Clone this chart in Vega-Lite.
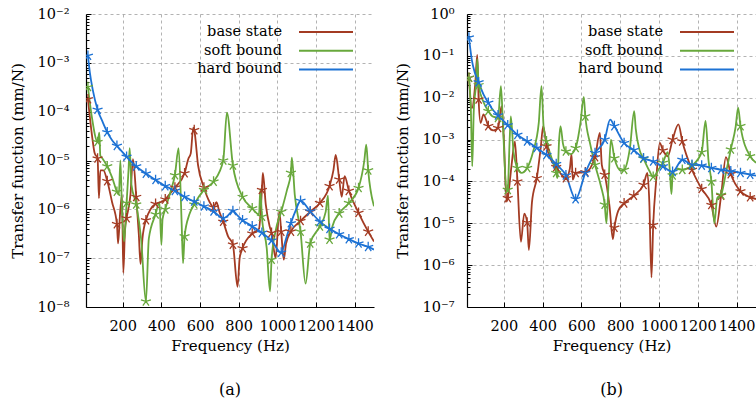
{
"$schema": "https://vega.github.io/schema/vega-lite/v6.json",
"padding": {"left": 10, "top": 6, "right": 0, "bottom": 0},
"background": "white",
"bounds": "flush",
"spacing": 93,
"config": {
  "view": {"stroke": null},
  "font": "DejaVu Serif",
  "axis": {"labelFont": "DejaVu Serif", "labelFontSize": 14.5, "labelColor": "#000", "titleFont": "DejaVu Serif", "titleFontSize": 15, "titleFontWeight": "normal", "titleColor": "#000", "domainColor": "#000", "domainWidth": 1.2, "tickColor": "#000", "tickWidth": 1, "gridColor": "#a0a0a0", "gridDash": [3, 3], "gridWidth": 0.8}
},
"resolve": {"scale": {"x": "independent", "y": "independent", "color": "independent", "stroke": "independent"}, "legend": {"color": "independent", "stroke": "independent"}},
"datasets": {
"a": [
{"s":"base state","f":20,"v":1.8e-4},{"s":"base state","f":40,"v":3.5e-5},{"s":"base state","f":55,"v":1.4e-5},{"s":"base state","f":70,"v":1.1e-5},{"s":"base state","f":77,"v":1.7e-6},{"s":"base state","f":84,"v":6.3e-6},{"s":"base state","f":100,"v":6.3e-6},{"s":"base state","f":120,"v":3.8e-6},{"s":"base state","f":145,"v":1.4e-6},{"s":"base state","f":170,"v":5.0e-7},{"s":"base state","f":176,"v":2.0e-7},{"s":"base state","f":186,"v":7.9e-7},{"s":"base state","f":196,"v":2.0e-6},{"s":"base state","f":203,"v":5.0e-8},{"s":"base state","f":212,"v":4.0e-7},{"s":"base state","f":220,"v":6.6e-7},{"s":"base state","f":240,"v":2.0e-6},{"s":"base state","f":253,"v":1.07e-5},{"s":"base state","f":270,"v":1.8e-6},{"s":"base state","f":283,"v":3.2e-7},{"s":"base state","f":292,"v":7.6e-8},{"s":"base state","f":302,"v":2.5e-7},{"s":"base state","f":320,"v":6.0e-7},{"s":"base state","f":370,"v":1.3e-6},{"s":"base state","f":395,"v":1.4e-6},{"s":"base state","f":420,"v":1.6e-6},{"s":"base state","f":445,"v":2.1e-6},{"s":"base state","f":470,"v":2.8e-6},{"s":"base state","f":520,"v":5.5e-6},{"s":"base state","f":540,"v":1.1e-5},{"s":"base state","f":552,"v":1.4e-5},{"s":"base state","f":565,"v":4.7e-5},{"s":"base state","f":570,"v":4.2e-5},{"s":"base state","f":590,"v":7.9e-6},{"s":"base state","f":620,"v":2.8e-6},{"s":"base state","f":650,"v":1.4e-6},{"s":"base state","f":670,"v":1.1e-6},{"s":"base state","f":685,"v":1.4e-6},{"s":"base state","f":700,"v":8.9e-7},{"s":"base state","f":720,"v":5.6e-7},{"s":"base state","f":745,"v":2.8e-7},{"s":"base state","f":770,"v":1.9e-7},{"s":"base state","f":794,"v":2.6e-8},{"s":"base state","f":805,"v":1.0e-7},{"s":"base state","f":820,"v":1.6e-7},{"s":"base state","f":870,"v":3.2e-7},{"s":"base state","f":905,"v":4.0e-7},{"s":"base state","f":920,"v":2.5e-6},{"s":"base state","f":925,"v":5.6e-6},{"s":"base state","f":940,"v":1.26e-6},{"s":"base state","f":960,"v":4.5e-7},{"s":"base state","f":970,"v":3.3e-7},{"s":"base state","f":991,"v":1.0e-7},{"s":"base state","f":1010,"v":9.1e-7},{"s":"base state","f":1020,"v":3.5e-7},{"s":"base state","f":1033,"v":9.3e-8},{"s":"base state","f":1045,"v":2.0e-7},{"s":"base state","f":1070,"v":3.5e-7},{"s":"base state","f":1120,"v":5.8e-7},{"s":"base state","f":1170,"v":8.9e-7},{"s":"base state","f":1220,"v":1.35e-6},{"s":"base state","f":1270,"v":3.0e-6},{"s":"base state","f":1290,"v":6.3e-6},{"s":"base state","f":1302,"v":1.3e-5},{"s":"base state","f":1320,"v":4.1e-6},{"s":"base state","f":1333,"v":1.8e-6},{"s":"base state","f":1348,"v":4.8e-6},{"s":"base state","f":1370,"v":2.4e-6},{"s":"base state","f":1420,"v":8.5e-7},{"s":"base state","f":1470,"v":3.5e-7},{"s":"base state","f":1500,"v":2.2e-7},
{"s":"soft bound","f":20,"v":3.2e-4},{"s":"soft bound","f":40,"v":7.9e-5},{"s":"soft bound","f":70,"v":2.4e-5},{"s":"soft bound","f":79,"v":3.7e-5},{"s":"soft bound","f":84,"v":1.26e-5},{"s":"soft bound","f":95,"v":1.1e-5},{"s":"soft bound","f":120,"v":7.6e-6},{"s":"soft bound","f":145,"v":4.5e-6},{"s":"soft bound","f":170,"v":2.3e-6},{"s":"soft bound","f":180,"v":2.0e-6},{"s":"soft bound","f":188,"v":1.0e-5},{"s":"soft bound","f":196,"v":1.0e-6},{"s":"soft bound","f":207,"v":2.2e-7},{"s":"soft bound","f":220,"v":1.35e-6},{"s":"soft bound","f":230,"v":6.3e-6},{"s":"soft bound","f":236,"v":1.8e-5},{"s":"soft bound","f":245,"v":3.2e-6},{"s":"soft bound","f":270,"v":1.26e-6},{"s":"soft bound","f":295,"v":2.5e-7},{"s":"soft bound","f":320,"v":1.3e-8},{"s":"soft bound","f":335,"v":2.5e-7},{"s":"soft bound","f":370,"v":7.9e-7},{"s":"soft bound","f":390,"v":1.4e-6},{"s":"soft bound","f":400,"v":1.9e-7},{"s":"soft bound","f":406,"v":6.3e-7},{"s":"soft bound","f":420,"v":1.0e-6},{"s":"soft bound","f":450,"v":2.5e-6},{"s":"soft bound","f":470,"v":5.0e-6},{"s":"soft bound","f":489,"v":1.8e-5},{"s":"soft bound","f":505,"v":5.0e-7},{"s":"soft bound","f":512,"v":7.9e-8},{"s":"soft bound","f":520,"v":2.8e-7},{"s":"soft bound","f":545,"v":7.9e-7},{"s":"soft bound","f":570,"v":1.26e-6},{"s":"soft bound","f":620,"v":2.5e-6},{"s":"soft bound","f":670,"v":3.7e-6},{"s":"soft bound","f":720,"v":1.0e-5},{"s":"soft bound","f":739,"v":9.5e-5},{"s":"soft bound","f":770,"v":7.9e-6},{"s":"soft bound","f":820,"v":1.8e-6},{"s":"soft bound","f":870,"v":1.05e-6},{"s":"soft bound","f":905,"v":7.9e-7},{"s":"soft bound","f":912,"v":2.6e-6},{"s":"soft bound","f":920,"v":7.1e-7},{"s":"soft bound","f":945,"v":1.6e-7},{"s":"soft bound","f":962,"v":2.1e-8},{"s":"soft bound","f":970,"v":9.3e-8},{"s":"soft bound","f":990,"v":3.5e-7},{"s":"soft bound","f":1020,"v":8.9e-7},{"s":"soft bound","f":1050,"v":2.5e-6},{"s":"soft bound","f":1070,"v":5.6e-6},{"s":"soft bound","f":1075,"v":1.15e-5},{"s":"soft bound","f":1090,"v":2.0e-6},{"s":"soft bound","f":1120,"v":3.5e-7},{"s":"soft bound","f":1146,"v":3.0e-8},{"s":"soft bound","f":1170,"v":2.0e-7},{"s":"soft bound","f":1220,"v":4.5e-7},{"s":"soft bound","f":1250,"v":8.9e-7},{"s":"soft bound","f":1262,"v":1.9e-6},{"s":"soft bound","f":1270,"v":2.4e-7},{"s":"soft bound","f":1285,"v":4.5e-7},{"s":"soft bound","f":1320,"v":8.3e-7},{"s":"soft bound","f":1370,"v":1.35e-6},{"s":"soft bound","f":1420,"v":2.75e-6},{"s":"soft bound","f":1450,"v":1.0e-5},{"s":"soft bound","f":1460,"v":2.1e-5},{"s":"soft bound","f":1470,"v":6.3e-6},{"s":"soft bound","f":1500,"v":1.15e-6},
{"s":"hard bound","f":20,"v":1.4e-3},{"s":"hard bound","f":30,"v":6.3e-4},{"s":"hard bound","f":45,"v":2.8e-4},{"s":"hard bound","f":70,"v":1.1e-4},{"s":"hard bound","f":95,"v":6.3e-5},{"s":"hard bound","f":120,"v":3.8e-5},{"s":"hard bound","f":145,"v":2.6e-5},{"s":"hard bound","f":170,"v":2.0e-5},{"s":"hard bound","f":220,"v":1.2e-5},{"s":"hard bound","f":270,"v":7.6e-6},{"s":"hard bound","f":320,"v":5.4e-6},{"s":"hard bound","f":370,"v":4.0e-6},{"s":"hard bound","f":420,"v":3.0e-6},{"s":"hard bound","f":470,"v":2.4e-6},{"s":"hard bound","f":520,"v":1.8e-6},{"s":"hard bound","f":570,"v":1.45e-6},{"s":"hard bound","f":620,"v":1.15e-6},{"s":"hard bound","f":670,"v":9.1e-7},{"s":"hard bound","f":720,"v":6.6e-7},{"s":"hard bound","f":740,"v":7.2e-7},{"s":"hard bound","f":770,"v":9.3e-7},{"s":"hard bound","f":795,"v":7.4e-7},{"s":"hard bound","f":820,"v":6.0e-7},{"s":"hard bound","f":870,"v":4.5e-7},{"s":"hard bound","f":920,"v":3.3e-7},{"s":"hard bound","f":970,"v":2.3e-7},{"s":"hard bound","f":1020,"v":1.3e-7},{"s":"hard bound","f":1045,"v":2.5e-7},{"s":"hard bound","f":1070,"v":5.2e-7},{"s":"hard bound","f":1095,"v":9.5e-7},{"s":"hard bound","f":1120,"v":1.5e-6},{"s":"hard bound","f":1170,"v":9.1e-7},{"s":"hard bound","f":1220,"v":5.6e-7},{"s":"hard bound","f":1270,"v":4.0e-7},{"s":"hard bound","f":1320,"v":3.1e-7},{"s":"hard bound","f":1370,"v":2.45e-7},{"s":"hard bound","f":1420,"v":2.0e-7},{"s":"hard bound","f":1470,"v":1.7e-7},{"s":"hard bound","f":1500,"v":1.5e-7}
],
"b": [
{"s":"base state","f":20,"v":0.030},{"s":"base state","f":35,"v":5.6e-3},{"s":"base state","f":52,"v":0.02},{"s":"base state","f":63,"v":0.105},{"s":"base state","f":70,"v":9.1e-3},{"s":"base state","f":80,"v":2.5e-3},{"s":"base state","f":95,"v":4.0e-3},{"s":"base state","f":120,"v":2.1e-3},{"s":"base state","f":145,"v":1.66e-3},{"s":"base state","f":170,"v":1.9e-3},{"s":"base state","f":188,"v":6.3e-3},{"s":"base state","f":200,"v":1.0e-3},{"s":"base state","f":214,"v":3.3e-5},{"s":"base state","f":220,"v":4.0e-5},{"s":"base state","f":240,"v":2.5e-4},{"s":"base state","f":257,"v":9.1e-4},{"s":"base state","f":270,"v":1.0e-4},{"s":"base state","f":288,"v":3.6e-6},{"s":"base state","f":305,"v":1.7e-5},{"s":"base state","f":320,"v":1.05e-5},{"s":"base state","f":329,"v":2.3e-6},{"s":"base state","f":345,"v":3.2e-5},{"s":"base state","f":370,"v":1.2e-4},{"s":"base state","f":390,"v":6.3e-4},{"s":"base state","f":403,"v":2.1e-3},{"s":"base state","f":420,"v":6.9e-4},{"s":"base state","f":440,"v":3.5e-4},{"s":"base state","f":470,"v":2.2e-4},{"s":"base state","f":500,"v":1.4e-4},{"s":"base state","f":520,"v":1.2e-4},{"s":"base state","f":540,"v":2.0e-4},{"s":"base state","f":549,"v":4.5e-4},{"s":"base state","f":555,"v":1.1e-4},{"s":"base state","f":570,"v":1.6e-4},{"s":"base state","f":620,"v":1.66e-4},{"s":"base state","f":670,"v":3.8e-4},{"s":"base state","f":695,"v":1.45e-3},{"s":"base state","f":705,"v":2.5e-4},{"s":"base state","f":720,"v":1.45e-4},{"s":"base state","f":745,"v":2.5e-5},{"s":"base state","f":762,"v":4.2e-6},{"s":"base state","f":770,"v":7.9e-6},{"s":"base state","f":790,"v":2.0e-5},{"s":"base state","f":820,"v":3.0e-5},{"s":"base state","f":870,"v":4.6e-5},{"s":"base state","f":920,"v":8.3e-5},{"s":"base state","f":940,"v":1.6e-4},{"s":"base state","f":950,"v":3.2e-5},{"s":"base state","f":961,"v":5.1e-7},{"s":"base state","f":970,"v":9.1e-6},{"s":"base state","f":985,"v":1.0e-4},{"s":"base state","f":1004,"v":8.3e-4},{"s":"base state","f":1020,"v":5.5e-4},{"s":"base state","f":1045,"v":4.0e-4},{"s":"base state","f":1070,"v":1.0e-3},{"s":"base state","f":1100,"v":2.3e-3},{"s":"base state","f":1120,"v":9.1e-4},{"s":"base state","f":1170,"v":1.9e-4},{"s":"base state","f":1220,"v":6.6e-5},{"s":"base state","f":1270,"v":2.75e-5},{"s":"base state","f":1295,"v":8.3e-6},{"s":"base state","f":1320,"v":4.6e-5},{"s":"base state","f":1345,"v":3.8e-4},{"s":"base state","f":1370,"v":1.5e-4},{"s":"base state","f":1420,"v":5.8e-5},{"s":"base state","f":1470,"v":4.2e-5},{"s":"base state","f":1500,"v":3.8e-5},
{"s":"soft bound","f":20,"v":0.030},{"s":"soft bound","f":30,"v":5.0e-3},{"s":"soft bound","f":37,"v":2.3e-4},{"s":"soft bound","f":45,"v":5.0e-3},{"s":"soft bound","f":58,"v":0.025},{"s":"soft bound","f":63,"v":0.083},{"s":"soft bound","f":70,"v":0.020},{"s":"soft bound","f":95,"v":7.9e-3},{"s":"soft bound","f":120,"v":4.8e-3},{"s":"soft bound","f":145,"v":3.5e-3},{"s":"soft bound","f":170,"v":3.3e-3},{"s":"soft bound","f":185,"v":0.019},{"s":"soft bound","f":195,"v":2.5e-3},{"s":"soft bound","f":214,"v":5.6e-5},{"s":"soft bound","f":220,"v":6.3e-5},{"s":"soft bound","f":230,"v":1.0e-3},{"s":"soft bound","f":236,"v":3.6e-3},{"s":"soft bound","f":250,"v":5.0e-4},{"s":"soft bound","f":270,"v":2.1e-4},{"s":"soft bound","f":291,"v":1.6e-4},{"s":"soft bound","f":320,"v":2.1e-4},{"s":"soft bound","f":350,"v":5.0e-4},{"s":"soft bound","f":380,"v":2.5e-3},{"s":"soft bound","f":394,"v":0.019},{"s":"soft bound","f":405,"v":2.0e-3},{"s":"soft bound","f":420,"v":9.1e-4},{"s":"soft bound","f":450,"v":3.2e-4},{"s":"soft bound","f":470,"v":1.6e-4},{"s":"soft bound","f":476,"v":1.2e-4},{"s":"soft bound","f":485,"v":1.0e-3},{"s":"soft bound","f":492,"v":2.1e-3},{"s":"soft bound","f":505,"v":7.9e-4},{"s":"soft bound","f":520,"v":5.2e-4},{"s":"soft bound","f":545,"v":4.5e-4},{"s":"soft bound","f":570,"v":6.3e-4},{"s":"soft bound","f":595,"v":2.5e-3},{"s":"soft bound","f":612,"v":0.0105},{"s":"soft bound","f":620,"v":3.6e-3},{"s":"soft bound","f":645,"v":7.9e-4},{"s":"soft bound","f":670,"v":2.5e-4},{"s":"soft bound","f":700,"v":7.9e-5},{"s":"soft bound","f":720,"v":2.8e-5},{"s":"soft bound","f":729,"v":1.0e-5},{"s":"soft bound","f":740,"v":1.0e-4},{"s":"soft bound","f":752,"v":1.0e-3},{"s":"soft bound","f":770,"v":3.6e-4},{"s":"soft bound","f":805,"v":1.8e-4},{"s":"soft bound","f":820,"v":1.9e-4},{"s":"soft bound","f":850,"v":6.3e-4},{"s":"soft bound","f":872,"v":4.8e-3},{"s":"soft bound","f":880,"v":1.8e-3},{"s":"soft bound","f":900,"v":5.6e-4},{"s":"soft bound","f":920,"v":3.5e-4},{"s":"soft bound","f":950,"v":1.8e-4},{"s":"soft bound","f":970,"v":1.3e-4},{"s":"soft bound","f":1000,"v":2.0e-4},{"s":"soft bound","f":1020,"v":2.8e-4},{"s":"soft bound","f":1045,"v":5.0e-4},{"s":"soft bound","f":1055,"v":2.0e-4},{"s":"soft bound","f":1064,"v":5.0e-5},{"s":"soft bound","f":1070,"v":1.4e-4},{"s":"soft bound","f":1090,"v":2.0e-4},{"s":"soft bound","f":1120,"v":1.9e-4},{"s":"soft bound","f":1170,"v":2.4e-4},{"s":"soft bound","f":1220,"v":5.0e-4},{"s":"soft bound","f":1240,"v":2.8e-3},{"s":"soft bound","f":1255,"v":3.2e-4},{"s":"soft bound","f":1270,"v":1.0e-4},{"s":"soft bound","f":1285,"v":1.0e-5},{"s":"soft bound","f":1300,"v":4.0e-5},{"s":"soft bound","f":1320,"v":4.8e-5},{"s":"soft bound","f":1345,"v":1.6e-4},{"s":"soft bound","f":1370,"v":5.8e-4},{"s":"soft bound","f":1395,"v":2.0e-3},{"s":"soft bound","f":1408,"v":5.8e-3},{"s":"soft bound","f":1420,"v":2.1e-3},{"s":"soft bound","f":1470,"v":4.0e-4},{"s":"soft bound","f":1500,"v":2.8e-4},
{"s":"hard bound","f":20,"v":0.275},{"s":"hard bound","f":35,"v":0.079},{"s":"hard bound","f":50,"v":0.04},{"s":"hard bound","f":70,"v":0.0234},{"s":"hard bound","f":95,"v":0.012},{"s":"hard bound","f":120,"v":7.6e-3},{"s":"hard bound","f":145,"v":5.0e-3},{"s":"hard bound","f":170,"v":3.8e-3},{"s":"hard bound","f":220,"v":2.2e-3},{"s":"hard bound","f":270,"v":1.3e-3},{"s":"hard bound","f":320,"v":9.1e-4},{"s":"hard bound","f":370,"v":6.3e-4},{"s":"hard bound","f":420,"v":4.3e-4},{"s":"hard bound","f":470,"v":2.6e-4},{"s":"hard bound","f":520,"v":1.4e-4},{"s":"hard bound","f":570,"v":3.8e-5},{"s":"hard bound","f":620,"v":1.6e-4},{"s":"hard bound","f":670,"v":4.8e-4},{"s":"hard bound","f":720,"v":1.0e-3},{"s":"hard bound","f":748,"v":3.0e-3},{"s":"hard bound","f":770,"v":2.1e-3},{"s":"hard bound","f":820,"v":8.3e-4},{"s":"hard bound","f":870,"v":5.6e-4},{"s":"hard bound","f":920,"v":3.6e-4},{"s":"hard bound","f":970,"v":3.0e-4},{"s":"hard bound","f":1020,"v":2.3e-4},{"s":"hard bound","f":1070,"v":1.7e-4},{"s":"hard bound","f":1120,"v":3.3e-4},{"s":"hard bound","f":1170,"v":2.5e-4},{"s":"hard bound","f":1220,"v":2.4e-4},{"s":"hard bound","f":1270,"v":2.1e-4},{"s":"hard bound","f":1320,"v":1.9e-4},{"s":"hard bound","f":1370,"v":1.74e-4},{"s":"hard bound","f":1420,"v":1.6e-4},{"s":"hard bound","f":1470,"v":1.45e-4},{"s":"hard bound","f":1500,"v":1.38e-4}
]
},
"hconcat": [
{
  "width": 288, "height": 293,
  "data": {"name": "a"},
  "title": {"text": "(a)", "orient": "bottom", "offset": 28, "fontSize": 16, "font": "DejaVu Serif", "fontWeight": "normal", "anchor": "middle", "color": "#000"},
  "encoding": {
    "x": {"field": "f", "type": "quantitative", "scale": {"domain": [10, 1500], "nice": false, "zero": false},
      "axis": {"values": [200, 400, 600, 800, 1000, 1200, 1400], "format": "d", "tickSize": -5, "labelPadding": 17, "title": "Frequency (Hz)", "titlePadding": 6, "grid": true, "labelFlush": false}}
  },
  "layer": [
    {"mark": {"type": "line", "interpolate": "monotone", "strokeWidth": 1.8, "clip": true},
     "encoding": {
       "y": {"field": "v", "type": "quantitative", "scale": {"type": "log", "domain": [1e-8, 1e-2], "nice": false},
         "axis": {"values": [1e-8, 1e-7, 1e-6, 1e-5, 1e-4, 1e-3, 1e-2], "labelExpr": "'10' + (datum.value < 0.5 ? '⁻' : '') + ['⁰','¹','²','³','⁴','⁵','⁶','⁷','⁸','⁹'][abs(round(log(datum.value)/LN10))]", "tickSize": -5, "labelPadding": 22, "title": "Transfer function (mm/N)", "titlePadding": 12, "grid": true}},
       "color": {"field": "s", "type": "nominal", "scale": {"domain": ["base state", "soft bound", "hard bound"], "range": ["#a33b23", "#68a83c", "#1d72d4"]},
         "legend": {"orient": "none", "legendX": 203, "legendY": 8, "title": null, "symbolType": "M0,0L6,0", "symbolSize": 324, "symbolStrokeWidth": 2, "labelAlign": "right", "labelOffset": -27, "symbolOffset": 0, "labelFont": "DejaVu Serif", "labelFontSize": 14.5, "labelColor": "#000", "rowPadding": 1.7, "padding": 0, "labelLimit": 0}}
     }},
    {"transform": [{"filter": "(datum.f - 20) % 50 === 0"}],
     "mark": {"type": "point", "shape": "M0,0L0,-1M0,0L-0.951,-0.309M0,0L-0.588,0.809M0,0L0.588,0.809M0,0L0.951,-0.309", "filled": false, "size": 110, "strokeWidth": 1.3, "opacity": 1, "clip": true},
     "encoding": {
       "y": {"field": "v", "type": "quantitative", "scale": {"type": "log", "domain": [1e-8, 1e-2], "nice": false},
         "axis": {"orient": "left", "values": [2e-8,3e-8,4e-8,5e-8,6e-8,7e-8,8e-8,9e-8,2e-7,3e-7,4e-7,5e-7,6e-7,7e-7,8e-7,9e-7,2e-6,3e-6,4e-6,5e-6,6e-6,7e-6,8e-6,9e-6,2e-5,3e-5,4e-5,5e-5,6e-5,7e-5,8e-5,9e-5,2e-4,3e-4,4e-4,5e-4,6e-4,7e-4,8e-4,9e-4,2e-3,3e-3,4e-3,5e-3,6e-3,7e-3,8e-3,9e-3], "labels": false, "grid": false, "domain": false, "tickSize": -3, "title": null}},
       "stroke": {"field": "s", "type": "nominal", "scale": {"domain": ["base state", "soft bound", "hard bound"], "range": ["#a33b23", "#68a83c", "#1d72d4"]}, "legend": null}
     }}
  ],
  "resolve": {"axis": {"y": "independent"}}
},
{
  "width": 289, "height": 293,
  "data": {"name": "b"},
  "title": {"text": "(b)", "orient": "bottom", "offset": 28, "fontSize": 16, "font": "DejaVu Serif", "fontWeight": "normal", "anchor": "middle", "color": "#000"},
  "encoding": {
    "x": {"field": "f", "type": "quantitative", "scale": {"domain": [10, 1500], "nice": false, "zero": false},
      "axis": {"values": [200, 400, 600, 800, 1000, 1200, 1400], "format": "d", "tickSize": -5, "labelPadding": 17, "title": "Frequency (Hz)", "titlePadding": 6, "grid": true, "labelFlush": false}}
  },
  "layer": [
    {"mark": {"type": "line", "interpolate": "monotone", "strokeWidth": 1.8, "clip": true},
     "encoding": {
       "y": {"field": "v", "type": "quantitative", "scale": {"type": "log", "domain": [1e-7, 1], "nice": false},
         "axis": {"values": [1e-7, 1e-6, 1e-5, 1e-4, 1e-3, 1e-2, 1e-1, 1], "labelExpr": "'10' + (datum.value < 0.5 ? '⁻' : '') + ['⁰','¹','²','³','⁴','⁵','⁶','⁷','⁸','⁹'][abs(round(log(datum.value)/LN10))]", "tickSize": -5, "labelPadding": 18, "title": "Transfer function (mm/N)", "titlePadding": 12, "grid": true}},
       "color": {"field": "s", "type": "nominal", "scale": {"domain": ["base state", "soft bound", "hard bound"], "range": ["#a33b23", "#68a83c", "#1d72d4"]},
         "legend": {"orient": "none", "legendX": 203, "legendY": 8, "title": null, "symbolType": "M0,0L6,0", "symbolSize": 324, "symbolStrokeWidth": 2, "labelAlign": "right", "labelOffset": -27, "symbolOffset": 0, "labelFont": "DejaVu Serif", "labelFontSize": 14.5, "labelColor": "#000", "rowPadding": 1.7, "padding": 0, "labelLimit": 0}}
     }},
    {"transform": [{"filter": "(datum.f - 20) % 50 === 0"}],
     "mark": {"type": "point", "shape": "M0,0L0,-1M0,0L-0.951,-0.309M0,0L-0.588,0.809M0,0L0.588,0.809M0,0L0.951,-0.309", "filled": false, "size": 110, "strokeWidth": 1.3, "opacity": 1, "clip": true},
     "encoding": {
       "y": {"field": "v", "type": "quantitative", "scale": {"type": "log", "domain": [1e-7, 1], "nice": false},
         "axis": {"orient": "left", "values": [2e-7,3e-7,4e-7,5e-7,6e-7,7e-7,8e-7,9e-7,2e-6,3e-6,4e-6,5e-6,6e-6,7e-6,8e-6,9e-6,2e-5,3e-5,4e-5,5e-5,6e-5,7e-5,8e-5,9e-5,2e-4,3e-4,4e-4,5e-4,6e-4,7e-4,8e-4,9e-4,2e-3,3e-3,4e-3,5e-3,6e-3,7e-3,8e-3,9e-3,0.02,0.03,0.04,0.05,0.06,0.07,0.08,0.09,0.2,0.3,0.4,0.5,0.6,0.7,0.8,0.9], "labels": false, "grid": false, "domain": false, "tickSize": -3, "title": null}},
       "stroke": {"field": "s", "type": "nominal", "scale": {"domain": ["base state", "soft bound", "hard bound"], "range": ["#a33b23", "#68a83c", "#1d72d4"]}, "legend": null}
     }}
  ],
  "resolve": {"axis": {"y": "independent"}}
}
]
}
